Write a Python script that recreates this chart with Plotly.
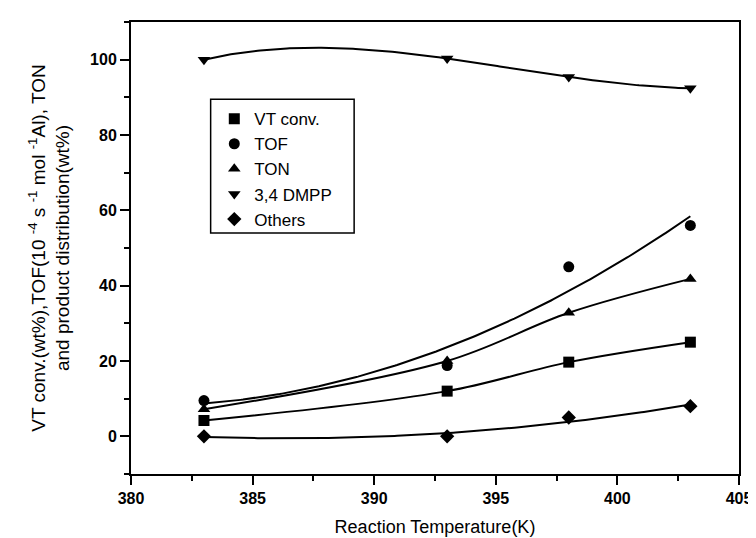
import numpy as np
import plotly.graph_objects as go

temps = [383, 393, 398, 403]
vt_conv = [4.2, 12.0, 19.7, 25.0]
tof = [9.5, 18.8, 45.0, 56.0]
ton = [7.2, 20.0, 32.8, 41.8]
dmpp = [100.0, 100.3, 95.4, 92.4]
others = [0.0, 0.0, 5.0, 8.0]

series_names = ["VT conv.", "TOF", "TON", "3,4 DMPP", "Others"]
series_values = [vt_conv, tof, ton, dmpp, others]
symbols = ["square", "circle", "triangle-up", "triangle-down", "diamond"]
# curve type drawn through each series: polynomial fit degree, or 0 = smooth spline through points
fit_degrees = [0, 2, 0, 3, 2]

fig = go.Figure()
xs = np.linspace(min(temps), max(temps), 200)
for name, vals, deg in zip(series_names, series_values, fit_degrees):
    if deg > 0:
        coef = np.polyfit(temps, vals, deg)
        fig.add_trace(go.Scatter(x=xs, y=np.polyval(coef, xs), mode="lines",
                                 line=dict(color="black", width=2), showlegend=False,
                                 hoverinfo="skip"))
    else:
        fig.add_trace(go.Scatter(x=temps, y=vals, mode="lines",
                                 line=dict(color="black", width=2, shape="spline", smoothing=1.0),
                                 showlegend=False, hoverinfo="skip"))
for i, (name, vals, sym) in enumerate(zip(series_names, series_values, symbols)):
    fig.add_trace(go.Scatter(x=temps, y=vals, mode="markers", name=name,
                             legendgroup=f"g{i}",
                             marker=dict(symbol=sym, size=11, color="black")))

font_family = "Liberation Sans, Arial, sans-serif"
tick_font = dict(family="Arial, Liberation Sans, sans-serif", size=16, color="black", weight="bold")

fig.update_xaxes(range=[380, 405], dtick=5, tick0=380,
                 showline=True, linewidth=2, linecolor="black", mirror=True,
                 ticks="outside", ticklen=9, tickwidth=2, tickcolor="black",
                 showgrid=False, zeroline=False, tickfont=tick_font,
                 minor=dict(ticks="outside", ticklen=5, tickwidth=1.5, dtick=2.5, tickcolor="black"),
                 title=dict(text="Reaction Temperature(K)", standoff=14,
                            font=dict(family=font_family, size=18, color="black")))
fig.update_yaxes(range=[-10, 110], dtick=20, tick0=0,
                 showline=True, linewidth=2, linecolor="black", mirror=True,
                 ticks="outside", ticklen=9, tickwidth=2, tickcolor="black",
                 showgrid=False, zeroline=False, tickfont=tick_font,
                 minor=dict(ticks="outside", ticklen=5, tickwidth=1.5, dtick=10, tickcolor="black"),
                 title=dict(text="VT conv.(wt%),TOF(10 <sup>-4</sup> s <sup>-1</sup> mol <sup>-1</sup>Al), TON<br>and product distribution(wt%)",
                            standoff=15,
                            font=dict(family=font_family, size=19, color="black")))

fig.update_layout(
    width=756, height=538,
    margin=dict(l=123, r=13, t=14, b=68),
    paper_bgcolor="white", plot_bgcolor="white",
    font=dict(family=font_family, color="black"),
    legend=dict(x=0.137, y=0.825, xanchor="left", yanchor="top",
                bgcolor="rgba(0,0,0,0)", borderwidth=0, tracegroupgap=0,
                font=dict(family=font_family, size=17, color="black"),
                itemwidth=30),
    shapes=[dict(type="rect", xref="paper", yref="paper",
                 x0=0.131, x1=0.367, y0=0.533, y1=0.829,
                 line=dict(color="black", width=1.5), fillcolor="white", layer="below")],
)

fig.write_html("out.html")
